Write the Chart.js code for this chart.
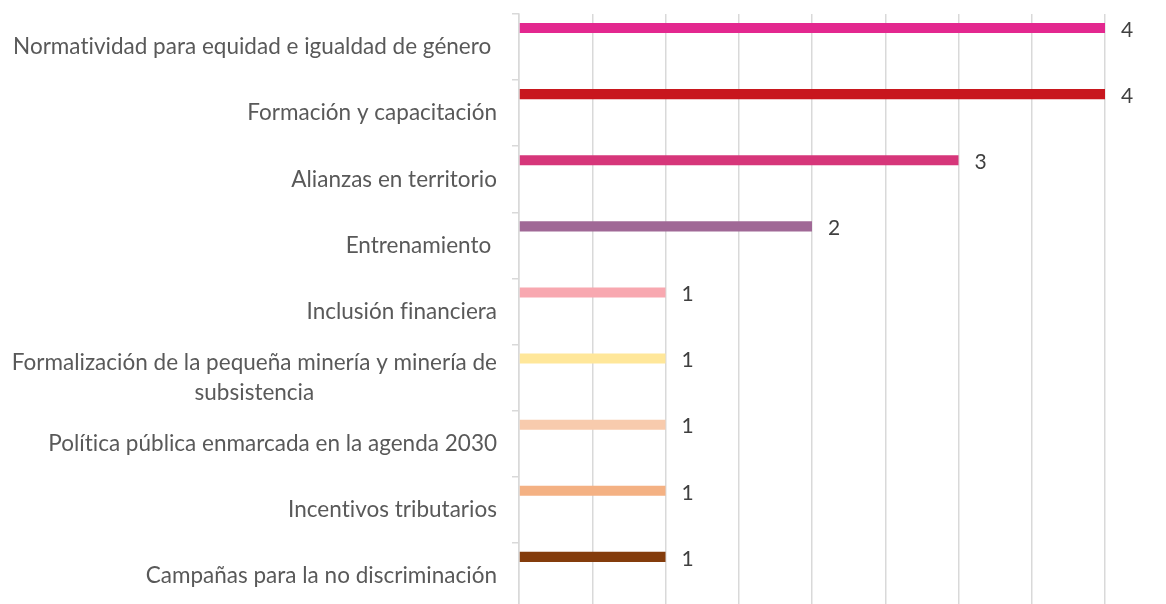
<!DOCTYPE html>
<html>
<head>
<meta charset="utf-8">
<script src="https://cdn.jsdelivr.net/npm/chart.js@4.4.1/dist/chart.umd.min.js"></script>
<style>
  html, body { margin: 0; padding: 0; background: #ffffff; overflow: hidden; }
  #wrap { position: relative; width: 1166px; height: 610px; }
</style>
</head>
<body>
<div id="wrap"><canvas id="c"></canvas></div>
<script>
const categories = [
  ["Normatividad para equidad e igualdad de género "],
  ["Formación y capacitación"],
  ["Alianzas en territorio"],
  ["Entrenamiento "],
  ["Inclusión financiera"],
  ["Formalización de la pequeña minería y minería de", "subsistencia"],
  ["Política pública enmarcada en la agenda 2030"],
  ["Incentivos tributarios"],
  ["Campañas para la no discriminación"]
];
const values = [4, 4, 3, 2, 1, 1, 1, 1, 1];
const barColors = ["#E3288F", "#C8171E", "#D6367A", "#A06896", "#F8A8B0", "#FFE79A", "#F8CBAD", "#F4B183", "#843C0C"];
const xTicks = { min: 0, max: 4, step: 0.5 };

const FONT = "Lato, 'Open Sans', sans-serif";

const labelPlugin = {
  id: 'labels',
  afterDatasetsDraw(chart) {
    const ctx = chart.ctx;
    const meta = chart.getDatasetMeta(0);
    ctx.save();
    ctx.font = "21px " + FONT;
    ctx.fillStyle = "#404040";
    ctx.textAlign = "left";
    ctx.textBaseline = "middle";
    meta.data.forEach((bar, i) => {
      ctx.fillText(String(values[i]), bar.x + 16, bar.y + 2);
    });
    ctx.restore();
  },
  afterDraw(chart) {
    const ctx = chart.ctx;
    const yScale = chart.scales.y;
    ctx.save();
    ctx.font = "22.5px " + FONT;
    try { ctx.letterSpacing = "0.01px"; } catch (e) {}
    ctx.fillStyle = "#595959";
    ctx.textBaseline = "middle";
    ctx.textAlign = "center";
    const right = yScale.right - 22;
    const lh = 30;
    categories.forEach((lines, i) => {
      const cy = yScale.getPixelForValue(i);
      const w = Math.max(...lines.map(l => ctx.measureText(l).width));
      const cx = right - w / 2;
      const y0 = cy - (lines.length - 1) * lh / 2;
      lines.forEach((l, j) => ctx.fillText(l, cx, y0 + j * lh));
    });
    ctx.restore();
  }
};

new Chart(document.getElementById('c'), {
  type: 'bar',
  data: {
    labels: categories,
    datasets: [
      { data: values, backgroundColor: barColors, borderWidth: 0 },
      { data: values.map(() => null) },
      { data: values.map(() => null) }
    ]
  },
  options: {
    indexAxis: 'y',
    responsive: true,
    maintainAspectRatio: false,
    animation: false,
    categoryPercentage: 0.864,
    barPercentage: 0.53,
    layout: { padding: { top: 14, right: 61, bottom: 1, left: 0 } },
    plugins: { legend: { display: false }, tooltip: { enabled: false } },
    scales: {
      x: {
        min: xTicks.min, max: xTicks.max,
        ticks: { display: false, stepSize: xTicks.step },
        grid: { color: "#D9D9D9", lineWidth: 1.5, drawTicks: false },
        border: { display: false }
      },
      y: {
        ticks: { display: false },
        grid: { drawOnChartArea: false, drawTicks: true, tickLength: 7, color: "#D9D9D9", lineWidth: 1.5, offset: true },
        border: { display: true, color: "#D9D9D9", width: 1.5 },
        afterFit(scale) { scale.width = 519; }
      }
    }
  },
  plugins: [labelPlugin]
});
</script>
</body>
</html>
